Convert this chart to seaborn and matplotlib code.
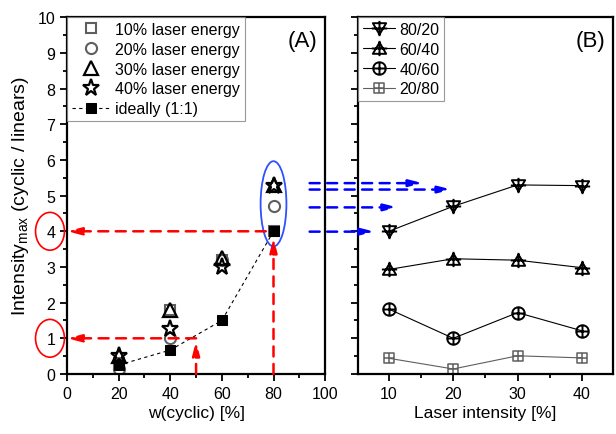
import matplotlib
matplotlib.use("Agg")
import matplotlib.pyplot as plt
import numpy as np
import pandas as pd
import seaborn as sns
from matplotlib.path import Path
from matplotlib.patches import Ellipse, ConnectionPatch
from matplotlib.ticker import MultipleLocator

# --- data ---
w_cyclic = [20, 40, 60, 80]
e10 = [0.30, 1.80, 3.20, 4.00]
e20 = [0.15, 1.00, 3.20, 4.70]
e30 = [0.50, 1.80, 3.25, 5.30]
e40 = [0.50, 1.25, 3.00, 5.28]
ideal = [0.25, 0.67, 1.50, 4.00]

laser = [10, 20, 30, 40]
r80_20 = [4.00, 4.70, 5.30, 5.28]
r60_40 = [2.93, 3.23, 3.19, 2.98]
r40_60 = [1.82, 1.00, 1.72, 1.21]
r20_80 = [0.44, 0.14, 0.51, 0.45]

sns.set_theme(style="ticks")
plt.rcParams['font.family'] = ['Liberation Sans', 'DejaVu Sans']
plt.rcParams['mathtext.fontset'] = 'custom'
plt.rcParams['mathtext.rm'] = 'Liberation Sans'
plt.rcParams['mathtext.it'] = 'Liberation Sans:italic'
plt.rcParams['xtick.direction'] = 'out'
plt.rcParams['ytick.direction'] = 'out'
for k in ('text.color', 'axes.labelcolor', 'xtick.color', 'ytick.color',
          'xtick.labelcolor', 'ytick.labelcolor'):
    plt.rcParams[k] = 'black'

fig = plt.figure(figsize=(6.16, 4.35), dpi=100)
ax1 = fig.add_axes([0.1088, 0.138, 0.419, 0.820])
ax2 = fig.add_axes([0.581, 0.138, 0.414, 0.820])

grey = '#5f5f5f'

# compound markers (shape + cross)
def with_plus(base, size=1.0):
    plus = Path([(-size, 0), (size, 0), (0, -size), (0, size)],
                [Path.MOVETO, Path.LINETO, Path.MOVETO, Path.LINETO])
    return Path.make_compound_path(base, plus)

tri_down = Path([(-1, 0.8), (1, 0.8), (0, -0.9), (-1, 0.8)],
                [Path.MOVETO, Path.LINETO, Path.LINETO, Path.CLOSEPOLY])
tri_up = Path([(-1, -0.8), (1, -0.8), (0, 0.9), (-1, -0.8)],
              [Path.MOVETO, Path.LINETO, Path.LINETO, Path.CLOSEPOLY])
sq = Path([(-1, -1), (1, -1), (1, 1), (-1, 1), (-1, -1)],
          [Path.MOVETO, Path.LINETO, Path.LINETO, Path.LINETO, Path.CLOSEPOLY])
m_tdown = with_plus(tri_down, 1.15)
m_tup = with_plus(tri_up, 1.15)
m_circ = with_plus(Path.unit_circle(), 1.0)
m_sq = with_plus(sq, 1.0)

# ---------- panel A ----------
sns.lineplot(x=w_cyclic, y=e10, ax=ax1, linestyle='none', marker='s', ms=7,
             mfc='none', mec=grey, mew=1.5, label='10% laser energy')
sns.lineplot(x=w_cyclic, y=e20, ax=ax1, linestyle='none', marker='o', ms=8,
             mfc='none', mec=grey, mew=1.5, label='20% laser energy')
sns.lineplot(x=w_cyclic, y=e30, ax=ax1, linestyle='none', marker='^', ms=9.5,
             mfc='none', mec='black', mew=1.6, label='30% laser energy')
sns.lineplot(x=w_cyclic, y=e40, ax=ax1, linestyle='none', marker='*', ms=12.5,
             mfc='none', mec='black', mew=1.6, label='40% laser energy')
sns.lineplot(x=w_cyclic, y=ideal, ax=ax1, color='black', linestyle=(0, (3, 3)), lw=0.8,
             marker='s', ms=7, mfc='black', mec='black', label='ideally (1:1)')

ax1.set_xlim(0, 100)
ax1.set_ylim(0, 10)
ax1.xaxis.set_major_locator(MultipleLocator(20))
ax1.xaxis.set_minor_locator(MultipleLocator(10))
ax1.yaxis.set_major_locator(MultipleLocator(1))
ax1.yaxis.set_minor_locator(MultipleLocator(0.5))
ax1.tick_params(which='major', length=5, width=1.3, labelsize=11.5)
ax1.tick_params(which='minor', length=3, width=1.3)
ax1.set_xlabel('w(cyclic) [%]', fontsize=12.5, labelpad=3)
ax1.set_ylabel(r'Intensity$_{\mathrm{max}}$ (cyclic / linears)', fontsize=14, labelpad=5)
ax1.text(0.97, 0.965, '(A)', transform=ax1.transAxes, ha='right', va='top', fontsize=16)
leg1 = ax1.legend(loc='upper left', borderaxespad=0, fontsize=11.5, frameon=True,
                  fancybox=False, edgecolor='grey', handlelength=2.4, handletextpad=0.3,
                  labelspacing=0.3, borderpad=0.3)
leg1.get_frame().set_linewidth(0.8)

# ---------- panel B ----------
sns.lineplot(x=laser, y=r80_20, ax=ax2, color='black', lw=0.8, marker=m_tdown, ms=11,
             mfc='none', mec='black', mew=1.4, label='80/20')
sns.lineplot(x=laser, y=r60_40, ax=ax2, color='black', lw=0.8, marker=m_tup, ms=11,
             mfc='none', mec='black', mew=1.4, label='60/40')
sns.lineplot(x=laser, y=r40_60, ax=ax2, color='black', lw=0.8, marker=m_circ, ms=9,
             mfc='none', mec='black', mew=1.4, label='40/60')
sns.lineplot(x=laser, y=r20_80, ax=ax2, color=grey, lw=0.8, marker=m_sq, ms=7,
             mfc='none', mec=grey, mew=1.1, label='20/80')

ax2.set_xlim(5.2, 44.8)
ax2.set_ylim(0, 10)
ax2.xaxis.set_major_locator(MultipleLocator(10))
ax2.xaxis.set_minor_locator(MultipleLocator(5))
ax2.yaxis.set_major_locator(MultipleLocator(1))
ax2.yaxis.set_minor_locator(MultipleLocator(0.5))
ax2.tick_params(which='major', length=5, width=1.3, labelsize=11.5)
ax2.tick_params(which='minor', length=3, width=1.3)
ax2.tick_params(axis='y', labelleft=False)
ax2.set_xlabel('Laser intensity [%]', fontsize=12.5, labelpad=3)
ax2.text(0.97, 0.965, '(B)', transform=ax2.transAxes, ha='right', va='top', fontsize=16)
leg2 = ax2.legend(loc='upper left', borderaxespad=0, fontsize=11.5, frameon=True,
                  fancybox=False, edgecolor='grey', handlelength=2.0, handletextpad=0.3,
                  labelspacing=0.3, borderpad=0.3)
leg2.get_frame().set_linewidth(0.8)

for ax in (ax1, ax2):
    for s in ax.spines.values():
        s.set_linewidth(1.6)
        s.set_color('black')

# ---------- annotations ----------
red_kw = dict(arrowstyle='-|>,head_length=0.7,head_width=0.18', color='red',
              lw=1.8, linestyle=(0, (4, 3)), shrinkA=0, shrinkB=0)
ax1.annotate('', xy=(80, 3.82), xytext=(80, 0), arrowprops=red_kw, annotation_clip=False)
ax1.annotate('', xy=(0, 4.0), xytext=(77, 4.0), arrowprops=red_kw, annotation_clip=False)
ax1.annotate('', xy=(50, 0.93), xytext=(50, 0), arrowprops=red_kw, annotation_clip=False)
ax1.annotate('', xy=(0, 1.0), xytext=(50, 1.0), arrowprops=red_kw, annotation_clip=False)

for yv in (1, 4):
    ax1.add_patch(Ellipse((-6.6, yv), 11.2, 1.06, fill=False, ec='red', lw=1.2,
                          clip_on=False))
ax1.add_patch(Ellipse((80, 4.77), 10, 2.39, fill=False, ec='#3050ff', lw=1.3,
                      clip_on=False))

blue_arrows = [(5.35, 15.3), (5.17, 19.8), (4.67, 11.4), (3.99, 7.8)]
for yv, xend in blue_arrows:
    con = ConnectionPatch(xyA=(94, yv), coordsA=ax1.transData,
                          xyB=(xend, yv), coordsB=ax2.transData,
                          arrowstyle='-|>,head_length=0.8,head_width=0.2',
                          color='blue', lw=1.8, linestyle=(0, (4, 3)),
                          shrinkA=0, shrinkB=0)
    fig.add_artist(con)

fig.savefig('out.png', dpi=100)
